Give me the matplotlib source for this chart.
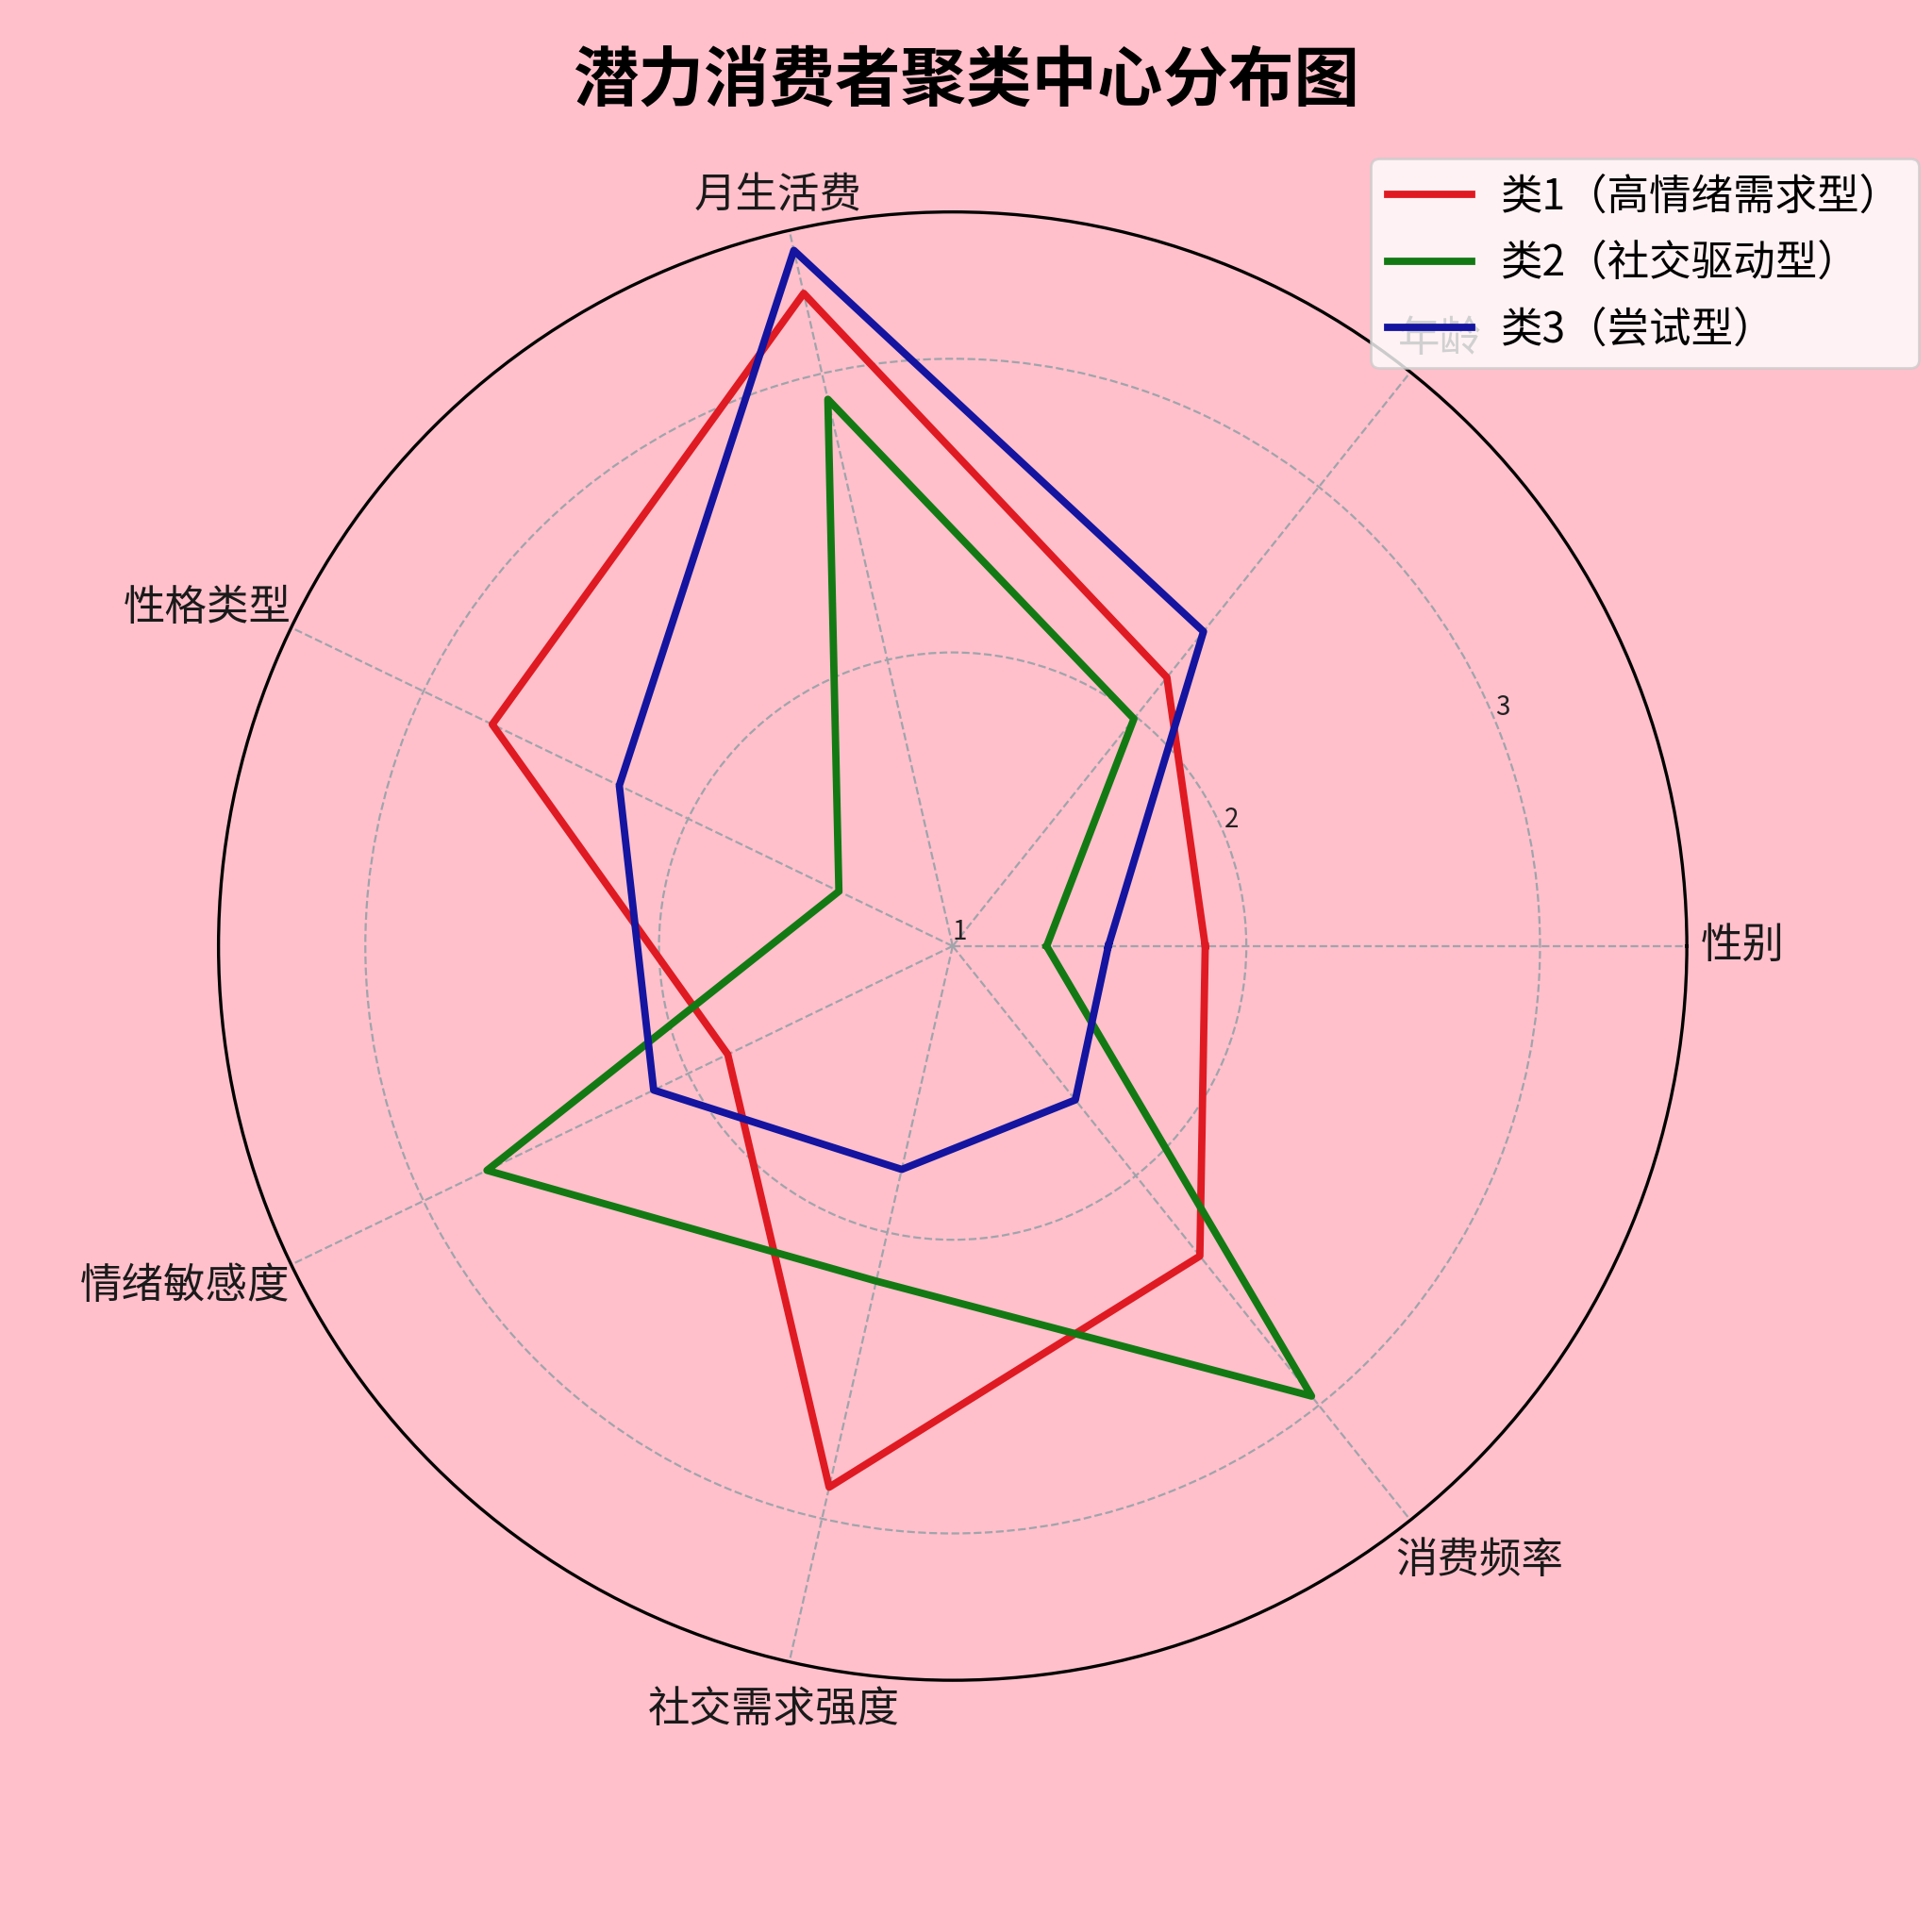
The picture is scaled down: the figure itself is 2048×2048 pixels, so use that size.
import numpy as np
import matplotlib
matplotlib.use("Agg")
import matplotlib.pyplot as plt
import matplotlib.transforms as mtransforms

plt.rcParams['font.family'] = ['Noto Sans CJK SC', 'DejaVu Sans']
plt.rcParams['axes.unicode_minus'] = False

# ---- data ----
categories = ['性别', '年龄', '月生活费', '性格类型', '情绪敏感度', '社交需求强度', '消费频率']
series_names = ['类1（高情绪需求型）', '类2（社交驱动型）', '类3（尝试型）']
cluster1 = [1.86, 2.17, 3.28, 2.74, 1.85, 2.89, 2.35]
cluster2 = [1.32, 1.99, 2.91, 1.43, 2.76, 2.17, 2.96]
cluster3 = [1.53, 2.37, 3.43, 2.26, 2.13, 1.78, 1.67]
r_ticks = [1, 2, 3]
r_tick_labels = ['1', '2', '3']
title = '潜力消费者聚类中心分布图'

colors = ['#e01a22', '#137a13', '#1414a0']
bg = '#ffc0cb'
# small per-label nudges (points) for the category labels
label_nudges = [(2.3, 0), (-6.6, 2.3), (-3.8, 2.3), (2.8, -1.9), (2.3, 1.4), (-5.2, -7.0), (-7.5, -4.7)]

n = len(categories)
angles = np.linspace(0, 2 * np.pi, n, endpoint=False)
ang_closed = np.concatenate([angles, angles[:1]])

fig = plt.figure(figsize=(10.24, 10.24), dpi=200, facecolor=bg)
ax = fig.add_axes([0.1131, 0.1303, 0.760, 0.760], projection='polar', facecolor=bg)

for vals, name, col in zip([cluster1, cluster2, cluster3], series_names, colors):
    v = np.concatenate([vals, vals[:1]])
    ax.plot(ang_closed, v, color=col, linewidth=2.8, label=name)

r_max = 3.5
ax.set_ylim(1, r_max)
ax.set_yticks(r_ticks)
ax.set_yticklabels(r_tick_labels, fontsize=10, color='#222222')
ax.set_rlabel_position(22.5)
ax.set_xticks(angles)
ax.set_xticklabels([])

# category labels anchored just outside the outer circle
pad_pt = 3.0
for name, a, (nx, ny) in zip(categories, angles, label_nudges):
    c, s = np.cos(a), np.sin(a)
    ha = 'left' if c > 0.3 else ('right' if c < -0.3 else 'center')
    va = 'bottom' if s > 0.3 else ('top' if s < -0.3 else 'center')
    off = mtransforms.ScaledTranslation((pad_pt * c + nx) / 72, (pad_pt * s + ny) / 72,
                                        fig.dpi_scale_trans)
    ax.text(a, r_max, name, ha=ha, va=va, fontsize=16, color='#1a1a1a',
            transform=ax.transData + off, clip_on=False)

ax.grid(True, color='#a0a4ab', linestyle='--', linewidth=0.8)
ax.spines['polar'].set_color('black')
ax.spines['polar'].set_linewidth(1.2)

fig.legend(loc='upper right', bbox_to_anchor=(0.993, 0.918), borderaxespad=0,
           fontsize=16, framealpha=0.8, labelspacing=0.55, handletextpad=0.7)

fig.suptitle(title, fontsize=25, fontweight='bold', y=0.958, va='center')

fig.savefig('out.png', dpi=200, facecolor=bg)
